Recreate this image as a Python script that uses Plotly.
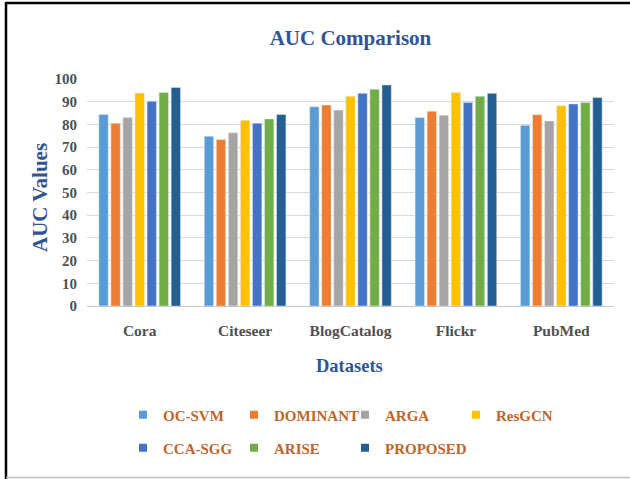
import plotly.graph_objects as go

datasets = ["Cora", "Citeseer", "BlogCatalog", "Flickr", "PubMed"]
methods = ["OC-SVM", "DOMINANT", "ARGA", "ResGCN", "CCA-SGG", "ARISE", "PROPOSED"]
oc_svm = [84.4, 74.8, 87.8, 83.0, 79.6]
dominant = [80.5, 73.3, 88.5, 85.8, 84.3]
arga = [83.0, 76.3, 86.3, 84.0, 81.5]
resgcn = [93.8, 81.8, 92.4, 94.0, 88.2]
cca_sgg = [90.2, 80.5, 93.7, 89.7, 89.0]
arise = [94.1, 82.4, 95.5, 92.4, 89.6]
proposed = [96.3, 84.4, 97.4, 93.7, 91.8]
y_ticks = [0, 10, 20, 30, 40, 50, 60, 70, 80, 90, 100]

series = [oc_svm, dominant, arga, resgcn, cca_sgg, arise, proposed]
colors = ["#5B9BD5", "#ED7D31", "#A5A5A5", "#FFC000", "#4472C4", "#70AD47", "#255E91"]

W, H = 630, 479
ML, MR, MT, MB = 87, 16, 79, 173
PW, PH = W - ML - MR, H - MT - MB

def px(x):
    return (x - ML) / PW

def py(y):
    return (H - MB - y) / PH

FONT = "Liberation Serif"
BLUE = "#2F5597"
BROWN = "#C0652A"
GRAY = "#505050"

fig = go.Figure()
for name, vals, col in zip(methods, series, colors):
    fig.add_trace(go.Bar(x=datasets, y=vals, name=name, marker_color=col,
                         showlegend=False))

for i, (name, col) in enumerate(zip(methods, colors)):
    fig.add_trace(go.Scatter(x=[None], y=[None], mode="markers", name=name,
                             marker=dict(symbol="square", size=8, color=col),
                             legend="legend" if i < 4 else "legend2",
                             hoverinfo="skip", showlegend=True))
# invisible spacer so the last entry of the second legend row is not clipped
fig.add_trace(go.Scatter(x=[None], y=[None], mode="markers", name=" ",
                         marker=dict(symbol="square", size=8, color="rgba(0,0,0,0)"),
                         legend="legend2", hoverinfo="skip", showlegend=True))

legend_common = dict(orientation="h", xanchor="left", yanchor="middle",
                     entrywidth=66, entrywidthmode="pixels",
                     font=dict(family=FONT, size=15, color=BROWN, weight="bold"),
                     bgcolor="rgba(0,0,0,0)", itemclick=False, itemdoubleclick=False)

fig.update_layout(
    width=W, height=H,
    margin=dict(l=ML, r=MR, t=MT, b=MB),
    paper_bgcolor="white", plot_bgcolor="white",
    barmode="group", bargap=0.2, bargroupgap=0.22,
    title=dict(text="AUC Comparison", x=0.5, xanchor="center", xref="paper",
               y=1 - 38 / H, yanchor="middle",
               font=dict(family=FONT, size=21, color=BLUE, weight="bold")),
    xaxis=dict(showgrid=False, showline=True, linecolor="#C8C8C8", linewidth=1,
               ticks="", ticklabelstandoff=10,
               tickfont=dict(family=FONT, size=15.5, color=GRAY, weight="bold")),
    yaxis=dict(range=[0, 100], tickvals=y_ticks, showgrid=True, gridcolor="#D9D9D9",
               gridwidth=1, zeroline=False, ticks="", ticklabelstandoff=9,
               tickfont=dict(family=FONT, size=15, color=GRAY, weight="bold")),
    legend=dict(x=px(123), y=py(415), **legend_common),
    legend2=dict(x=px(123), y=py(448), **legend_common),
    annotations=[
        dict(text="AUC Values", x=px(40), y=py(198), xref="paper", yref="paper",
             textangle=-90, showarrow=False, xanchor="center", yanchor="middle",
             font=dict(family=FONT, size=21, color=BLUE, weight="bold")),
        dict(text="Datasets", x=px(349), y=py(366), xref="paper", yref="paper",
             showarrow=False, xanchor="center", yanchor="middle",
             font=dict(family=FONT, size=18.5, color=BLUE, weight="bold")),
    ],
    shapes=[
        dict(type="line", xref="paper", yref="paper", x0=px(6), x1=px(W + 5),
             y0=py(3), y1=py(3), line=dict(color="black", width=2.5)),
        dict(type="line", xref="paper", yref="paper", x0=px(6), x1=px(6),
             y0=py(2), y1=py(H + 5), line=dict(color="black", width=2.5)),
        dict(type="line", xref="paper", yref="paper", x0=px(6), x1=px(W + 5),
             y0=py(477.5), y1=py(477.5), line=dict(color="#C0C0C0", width=1.5)),
    ],
)

fig.write_html("out.html", config={"displayModeBar": False},
               post_script="document.body.style.margin='0';document.body.style.overflow='hidden';")
